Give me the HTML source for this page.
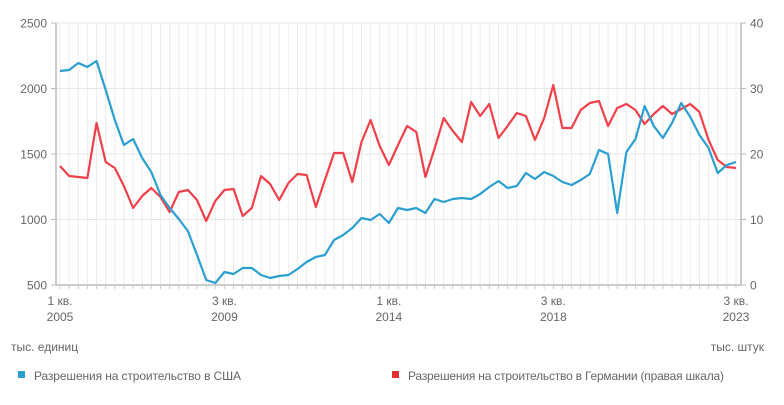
<!DOCTYPE html>
<html><head><meta charset="utf-8"><style>
body{margin:0;background:#fff;width:784px;height:400px;overflow:hidden;font-family:"Liberation Sans",sans-serif}
svg text{font-family:"Liberation Sans",sans-serif;fill:#666;font-size:12px}
</style></head><body>
<svg id="s" width="784" height="400" xmlns="http://www.w3.org/2000/svg"></svg>
<script>
const s=document.getElementById('s');let h='';
const X=i=>60+i*9.135;
for(let i=0;i<75;i++){h+=`<line x1="${X(i)}" y1="23" x2="${X(i)}" y2="285" stroke="#ececec" stroke-width="1"/>`;}
const ys=[23,88.5,154,219.5,285];
ys.forEach(y=>h+=`<line x1="56" y1="${y}" x2="741" y2="${y}" stroke="#e6e6e6" stroke-width="1"/>`);
h+=`<line x1="56" y1="23" x2="56" y2="285" stroke="#bbb" stroke-width="1.5"/>`;
h+=`<line x1="741" y1="23" x2="741" y2="285" stroke="#bbb" stroke-width="1.5"/>`;
h+=`<line x1="56" y1="285" x2="741" y2="285" stroke="#bbb" stroke-width="1.5"/>`;
for(let i=0;i<75;i++)h+=`<line x1="${X(i)}" y1="285" x2="${X(i)}" y2="289" stroke="#ccc"/>`;
const L=['2500','2000','1500','1000','500'],R=['40','30','20','10','0'];
ys.forEach((y,k)=>{h+=`<line x1="51" y1="${y}" x2="56" y2="${y}" stroke="#bbb"/><text x="47" y="${y+4.5}" text-anchor="end" font-size="13">${L[k]}</text>`;
h+=`<line x1="741" y1="${y}" x2="746" y2="${y}" stroke="#bbb"/><text x="750" y="${y+4.5}" font-size="13">${R[k]}</text>`;});
[[0,'1 кв.','2005'],[18,'3 кв.','2009'],[36,'1 кв.','2014'],[54,'3 кв.','2018'],[74,'3 кв.','2023']].forEach(([i,a,b])=>{
h+=`<text x="${X(i)}" y="305" text-anchor="middle">${a}</text><text x="${X(i)}" y="321" text-anchor="middle">${b}</text>`;});
h+=`<text x="11" y="351">тыс. единиц</text><text x="764" y="351" text-anchor="end">тыс. штук</text>`;
h+=`<rect x="18" y="371" width="7" height="7" fill="#2a9fd0"/><text x="34" y="380" textLength="207">Разрешения на строительство в США</text>`;
h+=`<rect x="392" y="371" width="7" height="7" fill="#e03030"/><text x="408" y="380" textLength="316">Разрешения на строительство в Германии (правая шкала)</text>`;
const B=[71,70,63,67,61,90,120,145,139,158,172,195,208,219,231,255,280,283,272,274,268,268,275,278,276,275,269,262,257,255,240,235,228,218,220,214,223,208,210,208,213,199,202,199,198,199,194,187,181,188,186,173,179,172,176,182,185,180,174,150,154,213,152,139,106,126,138,123,103,117,135,148,173,165,162];
const Rd=[166,176,177,178,123,162,168,186,208,196,188,197,212,192,190,200,221,201,190,189,216,208,176,184,200,183,174,175,207,180,153,153,182,142,120,146,165,145,126,132,177,149,118,131,142,102,116,104,138,126,113,116,140,118,85,128,128,110,103,101,126,108,104,110,124,114,106,114,109,104,112,140,160,167,168];
const P=a=>a.map((y,i)=>X(i).toFixed(1)+','+y).join(' ');
h+=`<polyline points="${P(Rd)}" fill="none" stroke="#f0404a" stroke-width="2.2" stroke-linejoin="round"/>`;
h+=`<polyline points="${P(B)}" fill="none" stroke="#2a9fd0" stroke-width="2.2" stroke-linejoin="round"/>`;
s.innerHTML=h;
</script>
</body></html>
